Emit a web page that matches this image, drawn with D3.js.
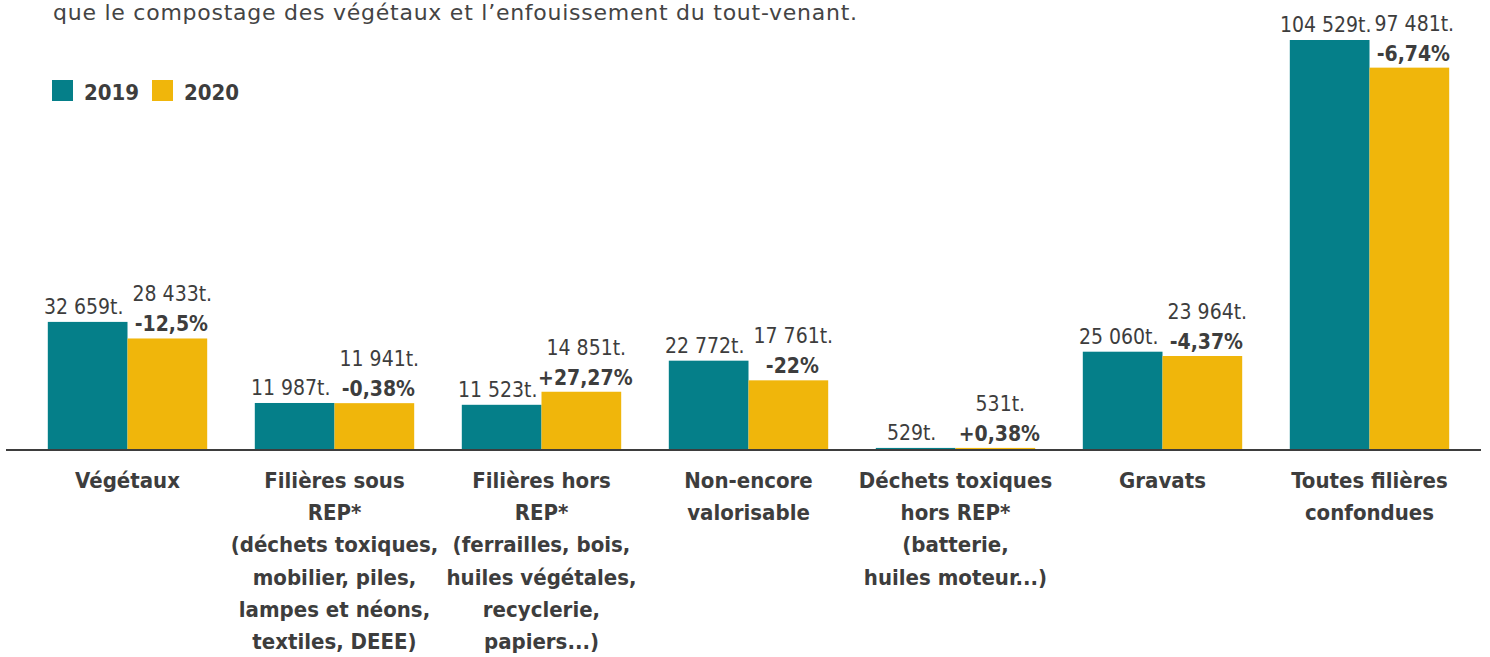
<!DOCTYPE html>
<html lang="fr">
<head>
<meta charset="utf-8">
<script src="https://cdn.jsdelivr.net/npm/d3@7"></script>
<style>
  body { margin: 0; background: #fff; }
  svg text { font-family: "DejaVu Sans Condensed", "DejaVu Sans", sans-serif; font-stretch: condensed; fill: #3d3d3d; }
  svg text.intro { font-family: "DejaVu Sans", sans-serif; font-stretch: normal; }
</style>
</head>
<body>
<div id="chart"></div>
<script>
// data
const categories = [
  "Végétaux",
  "Filières sous REP",
  "Filières hors REP",
  "Non-encore valorisable",
  "Déchets toxiques hors REP",
  "Gravats",
  "Toutes filières confondues",
];
const categoryLines = [
  ["Végétaux"],
  ["Filières sous", "REP*", "(déchets toxiques,", "mobilier, piles,", "lampes et néons,", "textiles, DEEE)"],
  ["Filières hors", "REP*", "(ferrailles, bois,", "huiles végétales,", "recyclerie,", "papiers...)"],
  ["Non-encore", "valorisable"],
  ["Déchets toxiques", "hors REP*", "(batterie,", "huiles moteur...)"],
  ["Gravats"],
  ["Toutes filières", "confondues"],
];
const years = ["2019", "2020"];
const values2019 = [32659, 11987, 11523, 22772, 529, 25060, 104529];
const values2020 = [28433, 11941, 14851, 17761, 531, 23964, 97481];
const changeLabels = ["-12,5%", "-0,38%", "+27,27%", "-22%", "+0,38%", "-4,37%", "-6,74%"];
const introText = "que le compostage des végétaux et l’enfouissement du tout-venant.";

class GroupedBars {
  constructor(_config) {
    this.config = {
      parentElement: _config.parentElement,
      containerWidth: 1490,
      containerHeight: 657,
      baseline: 450,
      top: 40,
      colors: ["#057f89", "#f0b60b"],
    };
    this.data = categories.map((c, i) => ({
      category: c,
      lines: categoryLines[i],
      change: changeLabels[i],
      values: [values2019[i], values2020[i]],
    }));
    this.initVis();
  }

  initVis() {
    let vis = this;

    vis.svg = d3
      .select(vis.config.parentElement)
      .append("svg")
      .attr("width", vis.config.containerWidth)
      .attr("height", vis.config.containerHeight);

    vis.xScale = d3.scaleBand().range([24, 1473]).paddingInner(0.23).paddingOuter(0.115);
    vis.xSub = d3.scaleBand().domain(years);
    vis.yScale = d3.scaleLinear().range([vis.config.baseline, vis.config.top]);
    vis.color = d3.scaleOrdinal().domain(years).range(vis.config.colors);

    // intro sentence, cut off at the top like in the source
    vis.svg
      .append("text")
      .attr("class", "intro")
      .attr("x", 53)
      .attr("y", 20)
      .style("font-size", "22px")
      .style("letter-spacing", "0.75px")
      .style("fill", "#444")
      .text(introText);

    // legend
    const legend = vis.svg
      .selectAll(".legend")
      .data(years)
      .join("g")
      .attr("class", "legend")
      .attr("transform", (d, i) => `translate(${52 + i * 100},80)`);
    legend
      .append("rect")
      .attr("width", 21)
      .attr("height", 21)
      .attr("fill", (d) => vis.color(d));
    legend
      .append("text")
      .attr("x", 32)
      .attr("y", 20)
      .style("font-size", "22px")
      .style("font-weight", "bold")
      .text((d) => d);

    vis.chart = vis.svg.append("g");
  }

  updateVis() {
    let vis = this;
    vis.xScale.domain(vis.data.map((d) => d.category));
    vis.xSub.range([0, vis.xScale.bandwidth()]);
    vis.yScale.domain([0, d3.max(values2019.concat(values2020))]);
    vis.renderVis();
  }

  renderVis() {
    let vis = this;
    const fmt = (v) => d3.format(",")(v).replace(/,/g, " ") + "t.";

    const groups = vis.chart
      .selectAll(".group")
      .data(vis.data)
      .join("g")
      .attr("class", "group")
      .attr("transform", (d) => `translate(${vis.xScale(d.category)},0)`);

    groups
      .selectAll(".bar")
      .data((d) => d.values.map((v, i) => ({ year: years[i], value: v })))
      .join("rect")
      .attr("class", "bar")
      .attr("x", (d) => vis.xSub(d.year))
      .attr("y", (d) => vis.yScale(d.value))
      .attr("width", vis.xSub.bandwidth())
      .attr("height", (d) => vis.yScale(0) - vis.yScale(d.value))
      .attr("fill", (d) => vis.color(d.year));

    // tonnage labels
    groups
      .selectAll(".val")
      .data((d) => d.values.map((v, i) => ({ year: years[i], value: v, i: i })))
      .join("text")
      .attr("class", "val")
      .attr("x", (d) => vis.xSub(d.year) + vis.xSub.bandwidth() / 2 + (d.i ? 5 : -4))
      .attr("y", (d) => vis.yScale(d.value) - (d.i ? 37 : 8))
      .style("text-anchor", "middle")
      .style("font-size", "21px")
      .style("font-weight", "300")
      .text((d) => fmt(d.value));

    // change labels on the 2020 bar
    groups
      .append("text")
      .attr("x", vis.xSub("2020") + vis.xSub.bandwidth() / 2 + 4)
      .attr("y", (d) => vis.yScale(d.values[1]) - 7)
      .style("text-anchor", "middle")
      .style("font-size", "21px")
      .style("font-weight", "bold")
      .text((d) => d.change);

    // category labels
    groups
      .selectAll(".cat")
      .data((d) => d.lines)
      .join("text")
      .attr("class", "cat")
      .attr("x", vis.xScale.bandwidth() / 2)
      .attr("y", (d, i) => 488 + i * 32.2)
      .style("text-anchor", "middle")
      .style("font-size", "22px")
      .style("font-weight", "bold")
      .text((d) => d);

    // baseline
    vis.chart
      .append("line")
      .attr("x1", 6)
      .attr("x2", 1481)
      .attr("y1", vis.yScale(0))
      .attr("y2", vis.yScale(0))
      .attr("stroke", "#3d3d3d")
      .attr("stroke-width", 2);
  }
}

const chart = new GroupedBars({ parentElement: "#chart" });
chart.updateVis();
</script>
</body>
</html>
